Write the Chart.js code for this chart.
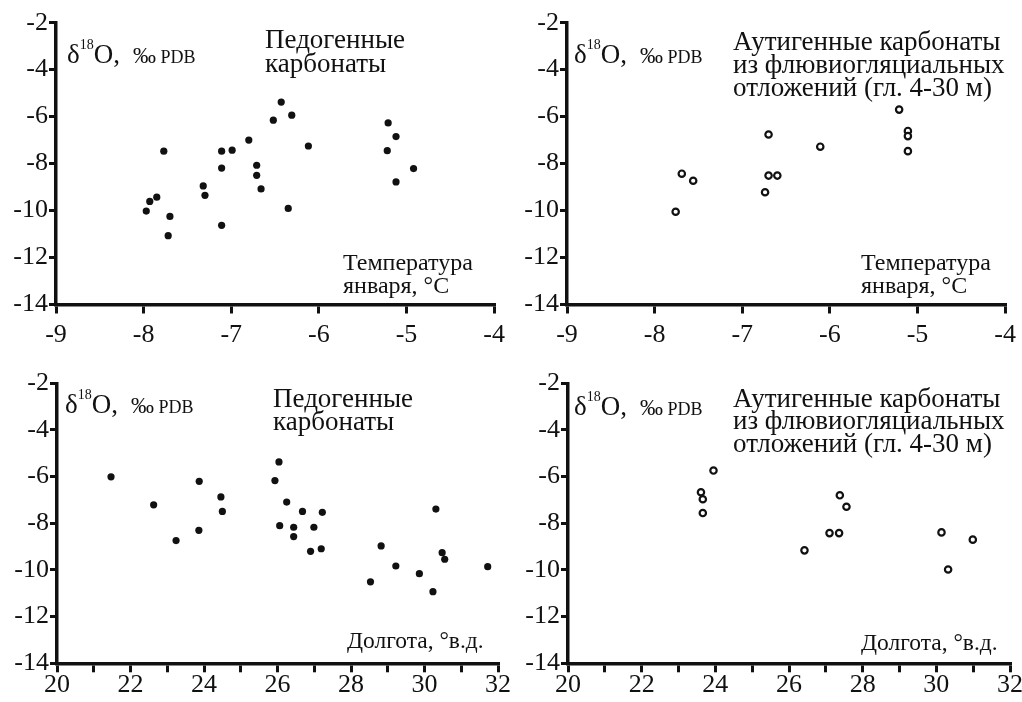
<!DOCTYPE html>
<html lang="ru">
<head>
<meta charset="utf-8">
<title>δ18O карбонатов</title>
<script src="https://cdn.jsdelivr.net/npm/chart.js@4/dist/chart.umd.min.js"></script>
<style>
  html, body { margin: 0; padding: 0; background: #fff; }
  #wrap { position: relative; width: 1022px; height: 702px; overflow: hidden; }
  canvas { position: absolute; }
</style>
</head>
<body>
<div id="wrap">
  <canvas id="c1" width="511" height="351" style="left:0;top:0"></canvas>
  <canvas id="c2" width="511" height="351" style="left:511px;top:0"></canvas>
  <canvas id="c3" width="511" height="351" style="left:0;top:351px"></canvas>
  <canvas id="c4" width="511" height="351" style="left:511px;top:351px"></canvas>
</div>
<script>
// Педогенные карбонаты: температура января
const tempPedX = [-7.97, -7.93, -7.85, -7.77, -7.70, -7.72, -7.32, -7.30, -7.11, -7.11, -7.11, -6.99, -6.80,
                  -6.71, -6.71, -6.66, -6.52, -6.43, -6.31, -6.35, -6.12, -5.21, -5.12, -5.22, -4.92, -5.12];
const tempPedY = [-10.02, -9.61, -9.43, -7.47, -10.25, -11.07, -8.95, -9.35, -7.47, -8.19, -10.63, -7.43, -7.00,
                  -8.07, -8.50, -9.08, -6.15, -5.38, -5.94, -9.91, -7.25, -6.27, -6.85, -7.45, -8.21, -8.78];

// Аутигенные карбонаты: температура января
const tempAutX = [-7.76, -7.69, -7.56, -6.74, -6.70, -6.70, -6.60, -6.11, -5.21, -5.11, -5.11, -5.11];
const tempAutY = [-10.05, -8.43, -8.73, -9.22, -6.76, -8.51, -8.51, -7.28, -5.70, -6.61, -6.83, -7.47];

// Педогенные карбонаты: долгота
const lonPedX = [21.47, 22.63, 23.24, 23.87, 23.86, 24.46, 24.50, 25.93, 26.04, 26.06, 26.25, 26.44, 26.44, 26.68,
                 26.99, 26.90, 27.19, 27.22, 28.53, 28.82, 29.22, 29.86, 30.23, 30.31, 30.48, 30.55, 31.72];
const lonPedY = [-6.01, -7.21, -8.74, -6.20, -8.30, -6.87, -7.49, -6.17, -5.37, -8.10, -7.09, -8.17, -8.57, -7.49,
                 -8.17, -9.20, -9.09, -7.53, -10.51, -8.97, -9.83, -10.16, -10.93, -7.39, -9.26, -9.54, -9.86];

// Аутигенные карбонаты: долгота
const lonAutX = [23.61, 23.66, 23.66, 23.95, 26.42, 27.10, 27.36, 27.38, 27.56, 30.14, 30.32, 30.99];
const lonAutY = [-6.67, -6.97, -7.56, -5.74, -9.16, -8.42, -8.42, -6.80, -7.29, -8.39, -9.98, -8.70];

// подписи осей
const yTicks = [-14, -12, -10, -8, -6, -4, -2];
const tempTicks = [-9, -8, -7, -6, -5, -4];
const lonTicks = [20, 21, 22, 23, 24, 25, 26, 27, 28, 29, 30, 31, 32];

const titlePed = ['Педогенные', 'карбонаты'];
const titleAut = ['Аутигенные карбонаты', 'из флювиогляциальных', 'отложений (гл. 4-30 м)'];
const labelTemp = ['Температура', 'января, °C'];
const labelLon = ['Долгота, °в.д.'];

const FONT = '"Liberation Serif", "Times New Roman", serif';

function toPoints(xs, ys) {
  return xs.map((x, i) => ({ x: x, y: ys[i] }));
}

// рисует кусочки текста подряд (для верхних индексов)
function drawRuns(ctx, x, y, runs) {
  runs.forEach(r => {
    ctx.font = r.size + 'px ' + FONT;
    ctx.fillText(r.t, x, y + (r.dy || 0));
    x += ctx.measureText(r.t).width;
  });
}

const notesPlugin = {
  id: 'notes',
  afterDraw(chart, args, opts) {
    const ctx = chart.ctx;
    ctx.save();
    ctx.fillStyle = '#111';
    ctx.textAlign = 'left';
    ctx.textBaseline = 'alphabetic';
    // δ18O, ‰ PDB
    drawRuns(ctx, opts.delta[0], opts.delta[1], [
      { t: 'δ', size: 27 }, { t: '18', size: 14, dy: -14 }, { t: 'O,', size: 27 }
    ]);
    drawRuns(ctx, opts.delta[0] + 66, opts.delta[1], [
      { t: '‰', size: 23 }, { t: ' PDB', size: 18 }
    ]);
    ctx.font = opts.titleSize + 'px ' + FONT;
    opts.title.forEach((line, i) => ctx.fillText(line, opts.titlePos[0], opts.titlePos[1][i]));
    ctx.font = opts.labelSize + 'px ' + FONT;
    opts.label.forEach((line, i) => ctx.fillText(line, opts.labelPos[0], opts.labelPos[1][i]));
    ctx.restore();
  }
};

function makeChart(id, pts, filled, xMin, xMax, xTicks, area, xPad, notes) {
  const W = 511, H = 351;
  return new Chart(document.getElementById(id), {
    type: 'scatter',
    data: {
      datasets: [{
        data: pts,
        pointRadius: filled ? 3.6 : 3.2,
        pointBorderWidth: filled ? 0 : 2.2,
        pointBackgroundColor: filled ? '#111' : '#fff',
        pointBorderColor: '#111'
      }]
    },
    options: {
      responsive: false,
      animation: false,
      devicePixelRatio: 1,
      layout: { padding: { left: 0, top: area.top, right: W - area.right, bottom: 0 } },
      plugins: { legend: { display: false }, tooltip: { enabled: false }, notes: notes },
      scales: {
        x: {
          type: 'linear', min: xMin, max: xMax,
          border: { display: true, color: '#111', width: 3.5 },
          grid: { display: true, drawOnChartArea: false, drawTicks: true, tickLength: 9, tickWidth: 3, tickColor: '#111', lineWidth: 3, color: '#111' },
          ticks: {
            color: '#111', font: { family: FONT, size: 26 }, padding: xPad,
            maxRotation: 0, autoSkip: false,
            callback: v => (xTicks === lonTicks && v % 2 !== 0) ? '' : String(v)
          },
          afterBuildTicks: s => { s.ticks = xTicks.map(v => ({ value: v })); },
          afterFit: s => { s.height = H - area.bottom; }
        },
        y: {
          type: 'linear', min: -14, max: -2,
          border: { display: true, color: '#111', width: 3.5 },
          grid: { display: true, drawOnChartArea: false, drawTicks: true, tickLength: 7, tickWidth: 3, tickColor: '#111', lineWidth: 3, color: '#111' },
          ticks: { color: '#111', font: { family: FONT, size: 26 }, padding: 1, autoSkip: false },
          afterBuildTicks: s => { s.ticks = yTicks.map(v => ({ value: v })); },
          afterFit: s => { s.width = area.left; }
        }
      }
    },
    plugins: [notesPlugin]
  });
}

makeChart('c1', toPoints(tempPedX, tempPedY), true, -9, -4, tempTicks,
  { left: 56, right: 498, top: 22.7, bottom: 304.5 }, 6,
  { delta: [67, 63], title: titlePed, titleSize: 27, titlePos: [265, [48, 72]],
    label: labelTemp, labelSize: 24, labelPos: [343, [270, 293]] });

makeChart('c2', toPoints(tempAutX, tempAutY), false, -9, -4, tempTicks,
  { left: 56, right: 498, top: 22.7, bottom: 304.5 }, 6,
  { delta: [63, 63], title: titleAut, titleSize: 27, titlePos: [222, [50, 73, 96]],
    label: labelTemp, labelSize: 24, labelPos: [350, [270, 293]] });

makeChart('c3', toPoints(lonPedX, lonPedY), true, 20, 32, lonTicks,
  { left: 57, right: 498, top: 32.3, bottom: 312.3 }, -3,
  { delta: [65, 62], title: titlePed, titleSize: 27, titlePos: [273, [56, 79]],
    label: labelLon, labelSize: 23.5, labelPos: [347, [297]] });

makeChart('c4', toPoints(lonAutX, lonAutY), false, 20, 32, lonTicks,
  { left: 57, right: 499, top: 32.3, bottom: 312.3 }, -3,
  { delta: [63, 64], title: titleAut, titleSize: 27, titlePos: [222, [56, 78, 101]],
    label: labelLon, labelSize: 23.5, labelPos: [350, [299]] });
</script>
</body>
</html>
